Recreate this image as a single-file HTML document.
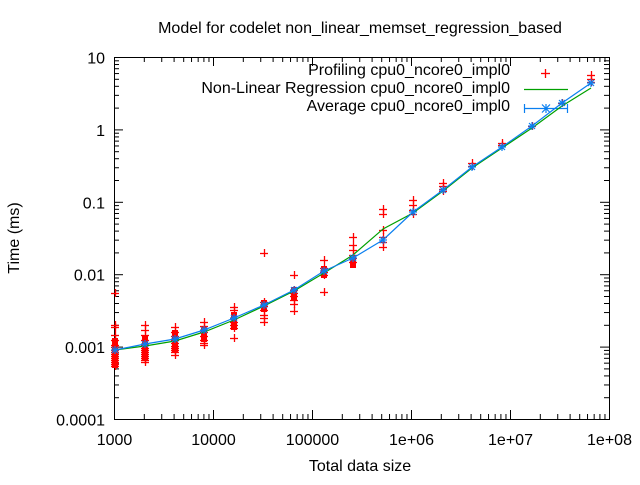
<!DOCTYPE html>
<html><head><style>
body{margin:0;background:#fff;}
svg text{font-family:"Liberation Sans","DejaVu Sans",sans-serif;font-size:16px;fill:#000;}
</style></head><body>
<svg id="s" width="640" height="480" xmlns="http://www.w3.org/2000/svg">
<rect width="640" height="480" fill="#fff"/>
<text x="360" y="33" text-anchor="middle">Model for codelet non_linear_memset_regression_based</text>
<text x="19" y="238" text-anchor="middle" transform="rotate(-90 19 238)">Time (ms)</text>
<text x="360" y="471" text-anchor="middle">Total data size</text>
<g id="ticks"></g>
<g id="lab"></g>
<rect x="114.5" y="57.5" width="495" height="362" fill="none" stroke="#000"/>
<text x="510" y="75" text-anchor="end">Profiling cpu0_ncore0_impl0</text>
<text x="510" y="93" text-anchor="end">Non-Linear Regression cpu0_ncore0_impl0</text>
<text x="510" y="111" text-anchor="end">Average cpu0_ncore0_impl0</text>
<line x1="545.5" y1="69" x2="545.5" y2="78" stroke="#ff0000" stroke-width="1.3"/>
<line x1="541" y1="73.5" x2="550" y2="73.5" stroke="#ff0000" stroke-width="1.3"/>
<line x1="524" y1="89.5" x2="568" y2="89.5" stroke="#00a000" stroke-width="1.2"/>
<line x1="524" y1="108.5" x2="568" y2="108.5" stroke="#0a7ff0" stroke-width="1.2"/>
<line x1="524.5" y1="104" x2="524.5" y2="113" stroke="#0a7ff0" stroke-width="1.2"/>
<line x1="567.5" y1="104" x2="567.5" y2="113" stroke="#0a7ff0" stroke-width="1.2"/>
<line x1="546" y1="104" x2="546" y2="113" stroke="#0a7ff0" stroke-width="1.2"/>
<line x1="542" y1="104.5" x2="550" y2="112.5" stroke="#0a7ff0" stroke-width="1.2"/>
<line x1="542" y1="112.5" x2="550" y2="104.5" stroke="#0a7ff0" stroke-width="1.2"/>
<g id="red"></g>
<polyline id="green" fill="none" stroke="#00a000" stroke-width="1.2"/>
<polyline id="blue" fill="none" stroke="#0a7ff0" stroke-width="1.2"/>
<g id="stars"></g>
</svg>
<script>
const NS="http://www.w3.org/2000/svg";
function el(p,t,a,txt){const e=document.createElementNS(NS,t);for(const k in a)e.setAttribute(k,a[k]);if(txt)e.textContent=txt;document.getElementById(p).appendChild(e);}
function L(p,x1,y1,x2,y2,c,w){el(p,"line",{x1:x1,y1:y1,x2:x2,y2:y2,stroke:c,"stroke-width":w||1});}
const X0=114,XD=99,Y0=57,YD=72.4;
const xl=["1000","10000","100000","1e+06","1e+07","1e+08"];
const yl=["10","1","0.1","0.01","0.001","0.0001"];
for(let d=0;d<6;d++){
 let x=X0+d*XD+0.5;
 el("lab","text",{x:x,y:445,"text-anchor":"middle"},xl[d]);
 L("ticks",x,419,x,410,"#000");L("ticks",x,57,x,66,"#000");
 let y=Y0+d*YD+0.5;
 el("lab","text",{x:105,y:y+6,"text-anchor":"end"},yl[d]);
 L("ticks",114,y,123,y,"#000");L("ticks",609,y,600,y,"#000");
 if(d<5){for(let m=2;m<10;m++){let xx=X0+(d+Math.log10(m))*XD+0.5;L("ticks",xx,419,xx,414,"#000");L("ticks",xx,57,xx,62,"#000");
 let yy=Y0+(d+1-Math.log10(m))*YD+0.5;L("ticks",114,yy,119,yy,"#000");L("ticks",609,yy,604,yy,"#000");}}
}
const xs=[115,145,175,204,234,264,294,324,353,383,413,443,472,502,532,562,591];
const avg=[350,344,339,330,318,305,290,271,258,240,212,190,167,147,126,103,83];
const grn=[350,346,341,332,320,306,291,273,255,229,213,191,168,148,128,106,88];
document.getElementById("blue").setAttribute("points",xs.map((x,i)=>x+","+avg[i]).join(" "));
document.getElementById("green").setAttribute("points",xs.map((x,i)=>x+","+grn[i]).join(" "));
const red={115:[293,325,327,335,340,345,347,350,352,354,356,358,360,362,364,366],145:[325,330,335,340,345,348,350,352,354,356,358,360,362],
175:[327,332,336,340,343,346,348,350,352,355],204:[322,326,332,336,340,343,345],234:[307,310,318,322,325,328,338],264:[253,302,306,310,315,318,322],
294:[275,290,293,296,300,304,311],324:[260,268,272,275,292],353:[237,245,250,255,258,262],383:[209,214,230,237,242,247],413:[200,205,210,214],
443:[183,186,189,191],472:[163,166],502:[143,145],532:[126],562:[103],591:[75,79,82]};
for(const k in red){const x=+k;red[k].forEach(y=>{L("red",x-4,y+0.5,x+4,y+0.5,"#ff0000",1.3);L("red",x+0.5,y-4,x+0.5,y+4,"#ff0000",1.3);});}
[[115,338,368],[145,336,360],[175,330,352],[204,326,342],[234,312,330],[264,300,312],[294,287,300],[324,266,278],[353,257,268]].forEach(b=>el("red","rect",{x:b[0]-3,y:b[1],width:6,height:b[2]-b[1],fill:"#ff0000"}));
xs.forEach((x,i)=>{let y=avg[i],c="#0a7ff0";
 L("stars",x-4,y,x+4,y,c,1.2);L("stars",x,y-4,x,y+4,c,1.2);
 L("stars",x-3,y-3,x+3,y+3,c,1.2);L("stars",x-3,y+3,x+3,y-3,c,1.2);});
</script>
</body></html>
